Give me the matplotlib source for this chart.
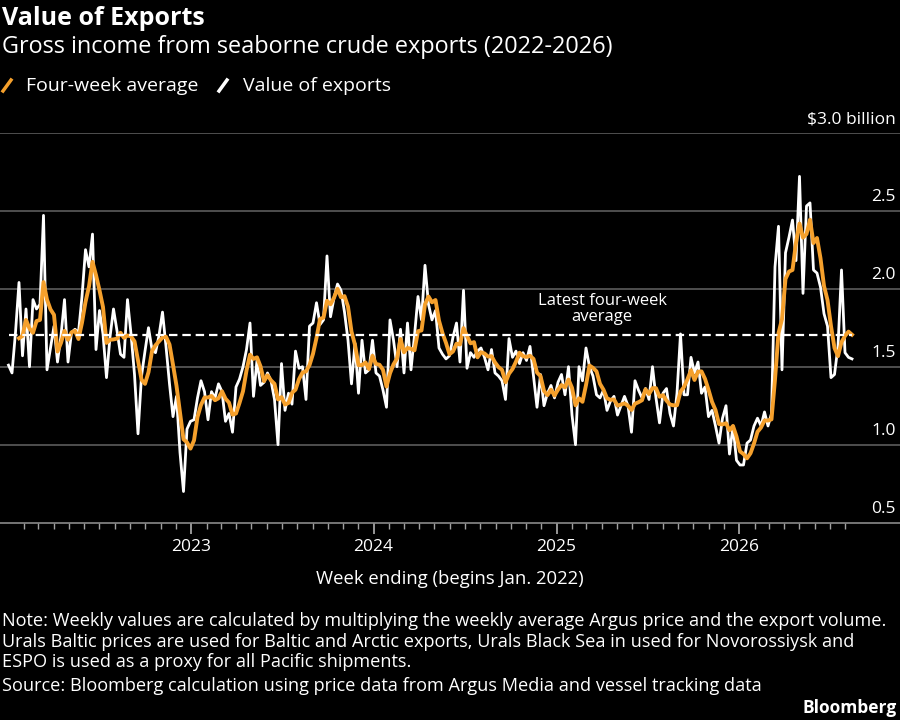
import pandas as pd
import matplotlib
matplotlib.use('Agg')
import matplotlib.pyplot as plt
from matplotlib.lines import Line2D

plt.rcParams['font.family'] = ['Open Sans', 'DejaVu Sans']

# weekly gross income, $ billion, first week ending 2022-01-01
first_week = '2022-01-01'
exports_2022 = [1.51, 1.46, 1.72, 2.04, 1.57, 1.87, 1.50, 1.93, 1.87, 1.90,
                2.47, 1.48, 1.62, 1.76, 1.53, 1.70, 1.93, 1.53, 1.72, 1.74,
                1.72, 1.95, 2.25, 2.14, 2.35, 1.61, 1.86, 1.71, 1.43, 1.69,
                1.87, 1.73, 1.58, 1.56, 1.93, 1.71, 1.45, 1.07, 1.44, 1.60,
                1.75, 1.61, 1.59, 1.70, 1.85, 1.63, 1.39, 1.18, 1.31, 0.95,
                0.70, 1.10]
exports_2023 = [1.15, 1.16, 1.30, 1.41, 1.34, 1.16, 1.34, 1.30,
                1.39, 1.34, 1.15, 1.20, 1.08, 1.37, 1.42, 1.50, 1.61, 1.78,
                1.31, 1.54, 1.38, 1.40, 1.46, 1.41, 1.29, 1.00, 1.52, 1.22,
                1.33, 1.26, 1.60, 1.49, 1.50, 1.29, 1.76, 1.78, 1.91, 1.77,
                1.80, 2.21, 1.82, 1.94, 2.03, 1.99, 1.85, 1.67, 1.39, 1.65,
                1.33, 1.67, 1.46, 1.48]
exports_2024 = [1.67, 1.46, 1.44, 1.35, 1.24, 1.80,
                1.67, 1.50, 1.74, 1.46, 1.78, 1.48, 1.70, 1.95, 1.80, 2.15,
                1.90, 1.80, 1.86, 1.62, 1.58, 1.55, 1.57, 1.69, 1.78, 1.53,
                1.99, 1.49, 1.59, 1.56, 1.60, 1.62, 1.56, 1.48, 1.61, 1.46,
                1.44, 1.41, 1.29, 1.68, 1.56, 1.60, 1.52, 1.59, 1.54, 1.63,
                1.44, 1.24, 1.45, 1.25, 1.33, 1.38]
exports_2025 = [1.30, 1.40, 1.45, 1.32,
                1.50, 1.19, 1.00, 1.50, 1.41, 1.62, 1.50, 1.44, 1.32, 1.30,
                1.35, 1.22, 1.28, 1.31, 1.19, 1.25, 1.31, 1.25, 1.08, 1.41,
                1.35, 1.30, 1.36, 1.29, 1.50, 1.30, 1.14, 1.33, 1.36, 1.20,
                1.12, 1.33, 1.71, 1.32, 1.32, 1.56, 1.46, 1.53, 1.33, 1.37,
                1.18, 1.22, 1.12, 1.01, 1.17, 1.25, 0.94, 1.12]
exports_2026 = [0.90, 0.87,
                0.87, 1.01, 1.03, 1.12, 1.17, 1.12, 1.21, 1.12, 1.20, 2.14,
                2.40, 1.48, 2.23, 2.33, 2.44, 2.18, 2.72, 1.97, 2.53, 2.55,
                2.12, 2.10, 2.01, 1.84, 1.76, 1.43, 1.45, 1.63, 2.12, 1.59,
                1.56, 1.55]

values = exports_2022 + exports_2023 + exports_2024 + exports_2025 + exports_2026
weeks = pd.date_range(first_week, periods=len(values), freq='7D')
exports = pd.Series(values, index=weeks)
avg4 = exports.rolling(4).mean()
latest = avg4.iloc[-1]

y_ticks = [0.5, 1.0, 1.5, 2.0, 2.5, 3.0]
y_labels = ['0.5', '1.0', '1.5', '2.0', '2.5', '$3.0 billion']
year_ticks = ['2023-01-01', '2024-01-01', '2025-01-01', '2026-01-01']
year_labels = ['2023', '2024', '2025', '2026']

ORANGE = '#f5a02c'
GRID = '#5c5c5c'
TXT = '#ffffff'

W, H = 900, 720
fig = plt.figure(figsize=(9, 7.2), dpi=100, facecolor='black')


def fy(px):
    return 1 - px / H


ax = fig.add_axes([0, fy(522.7), 1, (522.7 - 132.7) / H])
ax.set_facecolor('black')
ax.set_xlim(pd.Timestamp('2021-12-15'), pd.Timestamp('2026-11-19'))
ax.set_ylim(0.5, 3.0)

for v in y_ticks[1:]:
    ax.axhline(v, color=GRID, lw=1.2, zorder=1)
for v, lab in zip(y_ticks, y_labels):
    ax.annotate(lab, xy=(1, v), xycoords=('axes fraction', 'data'),
                xytext=(-3, 4), textcoords='offset points',
                ha='right', va='bottom', color=TXT, fontsize=12.5)

ax.plot(exports.index, exports.values, color='white', lw=2.0, zorder=3)
ax.plot(avg4.index, avg4.values, color=ORANGE, lw=2.8, zorder=4)
ax.hlines(latest, weeks[0], weeks[-1], colors='white', lw=1.6,
          linestyles=(0, (3.8, 2.2)), zorder=5)
ax.text(pd.Timestamp('2025-04-02'), latest + 0.06, 'Latest four-week\naverage',
        ha='center', va='bottom', color=TXT, fontsize=12, linespacing=1.05)

for side in ['left', 'right', 'top']:
    ax.spines[side].set_visible(False)
ax.spines['bottom'].set_color('#8a8a8a')
ax.spines['bottom'].set_linewidth(1.2)
ax.set_yticks([])

ax.set_xticks(pd.to_datetime(year_ticks))
ax.set_xticklabels(year_labels)
months = pd.date_range('2022-02-01', '2026-08-01', freq='MS')
ax.set_xticks(months, minor=True)
ax.tick_params(axis='x', which='major', length=8, width=1.2, color='#b0b0b0',
               labelcolor=TXT, labelsize=12.5, pad=4)
ax.tick_params(axis='x', which='minor', length=4, width=1, color='#a0a0a0')

fig.text(2 / W, fy(25), 'Value of Exports', color=TXT, fontsize=18,
         fontweight='bold', va='baseline')
fig.text(2 / W, fy(53), 'Gross income from seaborne crude exports (2022-2026)',
         color=TXT, fontsize=16.9, va='baseline')

fig.add_artist(Line2D([3 / W, 11 / W], [fy(91), fy(80)], color=ORANGE, lw=2.5,
                      transform=fig.transFigure))
fig.text(26 / W, fy(91), 'Four-week average', color=TXT, fontsize=14,
         va='baseline')
fig.add_artist(Line2D([219 / W, 227 / W], [fy(91), fy(80)], color='white', lw=2.5,
                      transform=fig.transFigure))
fig.text(243 / W, fy(91), 'Value of exports', color=TXT, fontsize=14,
         va='baseline')

fig.text(0.5, fy(584), 'Week ending (begins Jan. 2022)', color=TXT, fontsize=13.3,
         ha='center', va='baseline')

notes = ['Note: Weekly values are calculated by multiplying the weekly average Argus price and the export volume.',
         'Urals Baltic prices are used for Baltic and Arctic exports, Urals Black Sea in used for Novorossiysk and',
         'ESPO is used as a proxy for all Pacific shipments.',
         'Source: Bloomberg calculation using price data from Argus Media and vessel tracking data']
for txt, base in zip(notes, [626, 647, 667, 691]):
    fig.text(2 / W, fy(base), txt, color=TXT, fontsize=13.05, va='baseline')
fig.text(897 / W, fy(713), 'Bloomberg', color=TXT, fontsize=12.5,
         fontweight='bold', ha='right', va='baseline')

fig.savefig('out.png', dpi=100, facecolor='black')
